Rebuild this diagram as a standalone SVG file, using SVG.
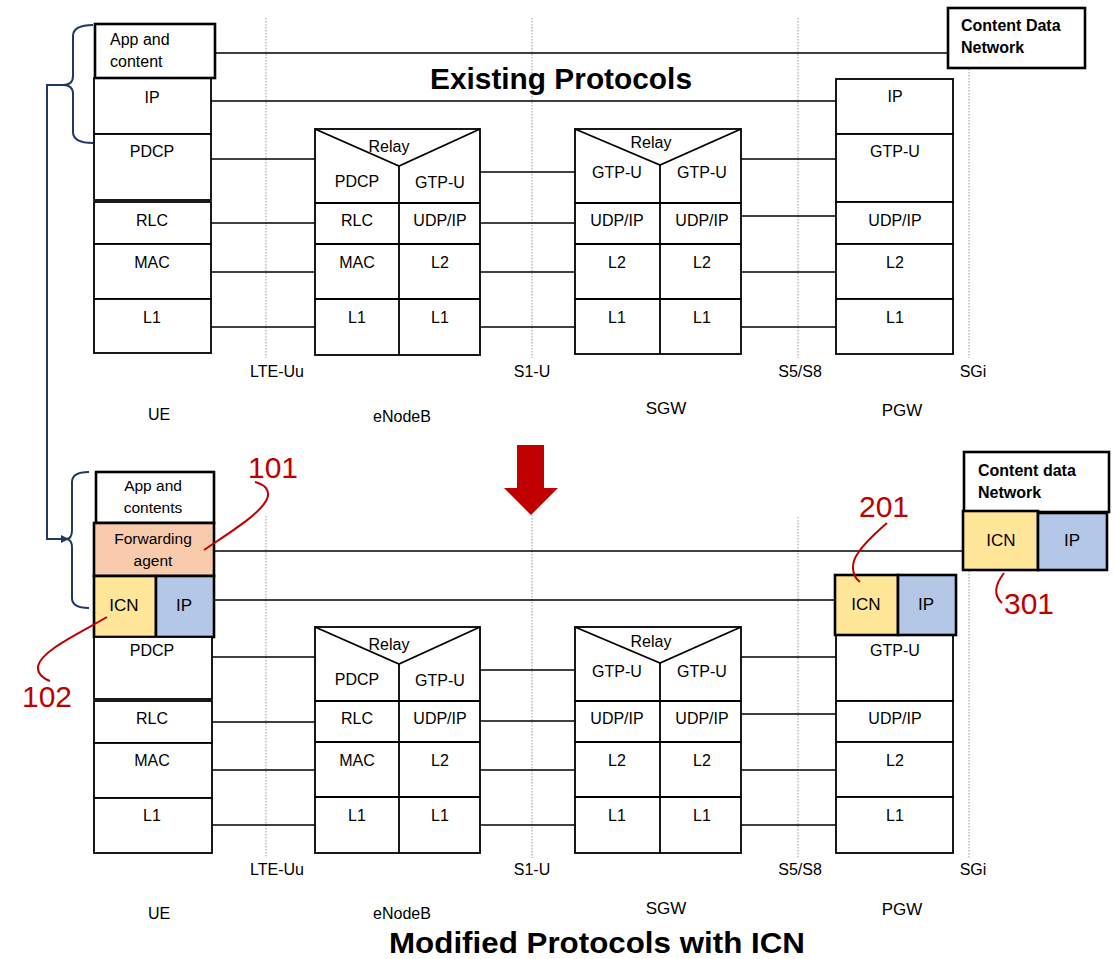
<svg xmlns="http://www.w3.org/2000/svg" width="1114" height="959" viewBox="0 0 1114 959">
<style>
.box{fill:#fff;stroke:#000;stroke-width:1.8}
.thick{stroke-width:2.6}
.ln{stroke:#000;stroke-width:1.8;fill:none}
.conn line{stroke:#000;stroke-width:1.6}
.dot{stroke:#9a9a9a;stroke-width:1;stroke-dasharray:1.5 1.5;fill:none}
.t{font-family:"Liberation Sans",Arial,sans-serif;font-size:16px;text-anchor:middle;fill:#000}
.c{font-family:"Liberation Sans",Arial,sans-serif;font-size:16px;fill:#000}
.cb{font-family:"Liberation Sans",Arial,sans-serif;font-size:16px;font-weight:bold;fill:#000}
.cm{font-family:"Liberation Sans",Arial,sans-serif;font-size:15.5px;text-anchor:middle;fill:#000}
.big{font-family:"Liberation Sans",Arial,sans-serif;font-size:17px;text-anchor:middle;fill:#000}
.lbl{font-family:"Liberation Sans",Arial,sans-serif;font-size:16px;text-anchor:middle;fill:#000}
.title{font-family:"Liberation Sans",Arial,sans-serif;font-size:29px;font-weight:bold;text-anchor:middle;fill:#000}
.red{font-family:"Liberation Sans",Arial,sans-serif;font-size:30px;fill:#c00000}
.rc{stroke:#c00000;stroke-width:2;fill:none}
.brace{stroke:#1f3864;stroke-width:2;fill:none}
.fa{fill:#f8cbad}
.icn{fill:#ffe699}
.ip{fill:#b4c7e7}
</style>
<defs>
<marker id="ah" markerWidth="8" markerHeight="8" refX="7" refY="4" orient="auto" markerUnits="userSpaceOnUse">
<path d="M0,0 L8,4 L0,8 Z" fill="#1f3864"/>
</marker>
</defs>

<!-- dotted interface lines -->
<g id="interfaces">
<line class="dot" x1="266" y1="18" x2="266" y2="358"/>
<line class="dot" x1="532" y1="18" x2="532" y2="358"/>
<line class="dot" x1="798" y1="18" x2="798" y2="358"/>
<line class="dot" x1="969" y1="69" x2="969" y2="358"/>
<line class="dot" x1="266" y1="516" x2="266" y2="858"/>
<line class="dot" x1="532" y1="515" x2="532" y2="858"/>
<line class="dot" x1="798" y1="517" x2="798" y2="858"/>
<line class="dot" x1="969" y1="571" x2="969" y2="858"/>
<text class="lbl" x="277" y="377">LTE-Uu</text>
<text class="lbl" x="532" y="377">S1-U</text>
<text class="lbl" x="800" y="377">S5/S8</text>
<text class="lbl" x="973" y="377">SGi</text>
<text class="lbl" x="277" y="875">LTE-Uu</text>
<text class="lbl" x="532" y="875">S1-U</text>
<text class="lbl" x="800" y="875">S5/S8</text>
<text class="lbl" x="973" y="875">SGi</text>
</g>

<text class="title" x="561" y="89" textLength="262" lengthAdjust="spacingAndGlyphs">Existing Protocols</text>

<!-- connectors -->
<g id="connectors" class="conn">
<line x1="215" y1="53" x2="948" y2="53"/>
<line x1="211" y1="101" x2="836" y2="101"/>
<line x1="211" y1="159" x2="315" y2="159"/>
<line x1="211" y1="223" x2="315" y2="223"/>
<line x1="211" y1="272" x2="315" y2="272"/>
<line x1="211" y1="327" x2="315" y2="327"/>
<line x1="480" y1="172" x2="575" y2="172"/>
<line x1="480" y1="223" x2="575" y2="223"/>
<line x1="480" y1="272" x2="575" y2="272"/>
<line x1="480" y1="327" x2="575" y2="327"/>
<line x1="741" y1="159" x2="836" y2="159"/>
<line x1="741" y1="216" x2="836" y2="216"/>
<line x1="741" y1="272" x2="836" y2="272"/>
<line x1="741" y1="327" x2="836" y2="327"/>

<line x1="214" y1="551" x2="963" y2="551"/>
<line x1="214" y1="600" x2="835" y2="600"/>
<line x1="212" y1="657" x2="315" y2="657"/>
<line x1="212" y1="722" x2="315" y2="722"/>
<line x1="212" y1="770" x2="315" y2="770"/>
<line x1="212" y1="825" x2="315" y2="825"/>
<line x1="480" y1="670" x2="575" y2="670"/>
<line x1="480" y1="721" x2="575" y2="721"/>
<line x1="480" y1="770" x2="575" y2="770"/>
<line x1="480" y1="825" x2="575" y2="825"/>
<line x1="741" y1="657" x2="836" y2="657"/>
<line x1="741" y1="714" x2="836" y2="714"/>
<line x1="741" y1="770" x2="836" y2="770"/>
<line x1="741" y1="825" x2="836" y2="825"/>
</g>

<!-- braces and link -->
<g id="brace-link">
<path class="brace" d="M93,25 Q73,25 73,36 L73,76 Q73,85 63,85 Q73,85 73,94 L73,132 Q73,143 93,143"/>
<path class="brace" d="M89,472 Q72,472 72,482 L72,530 Q72,539 66,539 Q72,539 72,548 L72,598 Q72,608 89,608"/>
<path class="brace" d="M63,85 L47,85 L47,539 L68,539" marker-end="url(#ah)"/>
</g>

<!-- TOP -->
<g id="ue-top">
<rect class="box" x="94" y="78" width="117" height="56"/>
<rect class="box thick" x="95" y="24" width="120" height="54"/>
<rect class="box" x="94" y="134" width="117" height="66"/>
<rect class="box" x="94" y="202" width="117" height="42"/>
<rect class="box" x="94" y="244" width="117" height="55"/>
<rect class="box" x="94" y="299" width="117" height="54"/>
<text class="c" x="110" y="45">App and</text>
<text class="c" x="110" y="67">content</text>
<text class="t" x="152" y="103">IP</text>
<text class="t" x="152" y="157">PDCP</text>
<text class="t" x="152" y="226">RLC</text>
<text class="t" x="152" y="268">MAC</text>
<text class="t" x="152" y="323">L1</text>
<text class="t" x="159" y="420">UE</text>
</g>

<g id="enb-top">
<rect class="box" x="315" y="129" width="165" height="226"/>
<polyline class="ln" points="315,129 399,166 480,129"/>
<line class="ln" x1="399" y1="166" x2="399" y2="355"/>
<line class="ln" x1="315" y1="203" x2="480" y2="203"/>
<line class="ln" x1="315" y1="244" x2="480" y2="244"/>
<line class="ln" x1="315" y1="299" x2="480" y2="299"/>
<text class="t" x="389" y="152">Relay</text>
<text class="t" x="357" y="187">PDCP</text>
<text class="t" x="440" y="188">GTP-U</text>
<text class="t" x="357" y="226">RLC</text>
<text class="t" x="440" y="226">UDP/IP</text>
<text class="t" x="357" y="268">MAC</text>
<text class="t" x="440" y="268">L2</text>
<text class="t" x="357" y="323">L1</text>
<text class="t" x="440" y="323">L1</text>
<text class="t" x="402" y="422">eNodeB</text>
</g>

<g id="sgw-top">
<rect class="box" x="575" y="129" width="166" height="225"/>
<polyline class="ln" points="575,129 660,165 741,129"/>
<line class="ln" x1="660" y1="165" x2="660" y2="354"/>
<line class="ln" x1="575" y1="203" x2="741" y2="203"/>
<line class="ln" x1="575" y1="244" x2="741" y2="244"/>
<line class="ln" x1="575" y1="299" x2="741" y2="299"/>
<text class="t" x="651" y="148">Relay</text>
<text class="t" x="617" y="178">GTP-U</text>
<text class="t" x="702" y="178">GTP-U</text>
<text class="t" x="617" y="226">UDP/IP</text>
<text class="t" x="702" y="226">UDP/IP</text>
<text class="t" x="617" y="268">L2</text>
<text class="t" x="702" y="268">L2</text>
<text class="t" x="617" y="323">L1</text>
<text class="t" x="702" y="323">L1</text>
<text class="big" x="666" y="414">SGW</text>
</g>

<g id="pgw-top">
<rect class="box" x="836" y="79" width="117" height="55"/>
<rect class="box" x="836" y="134" width="117" height="68"/>
<rect class="box" x="836" y="202" width="117" height="42"/>
<rect class="box" x="836" y="244" width="117" height="55"/>
<rect class="box" x="836" y="299" width="117" height="55"/>
<text class="t" x="895" y="102">IP</text>
<text class="t" x="895" y="157">GTP-U</text>
<text class="t" x="895" y="226">UDP/IP</text>
<text class="t" x="895" y="268">L2</text>
<text class="t" x="895" y="323">L1</text>
<text class="big" x="902" y="416">PGW</text>
</g>

<g id="cdn-top">
<rect class="box thick" x="948" y="8" width="137" height="60"/>
<text class="cb" x="961" y="31">Content Data</text>
<text class="cb" x="961" y="53">Network</text>
</g>

<!-- transition arrow -->
<g id="down-arrow">
<polygon points="517,445 544,445 544,488 558,488 531,515 504,488 517,488" fill="#c00000"/>
</g>

<!-- BOTTOM -->
<g id="ue-bottom">
<rect class="box thick" x="96" y="472" width="118" height="51"/>
<rect class="box thick fa" x="94" y="523" width="120" height="53"/>
<rect class="box thick icn" x="94" y="576" width="62" height="61"/>
<rect class="box thick ip" x="156" y="576" width="58" height="61"/>
<rect class="box" x="94" y="637" width="118" height="62"/>
<rect class="box" x="94" y="701" width="118" height="42"/>
<rect class="box" x="94" y="743" width="118" height="55"/>
<rect class="box" x="94" y="798" width="118" height="55"/>
<text class="cm" x="153" y="491">App and</text>
<text class="cm" x="153" y="513">contents</text>
<text class="cm" x="153" y="544">Forwarding</text>
<text class="cm" x="153" y="566">agent</text>
<text class="big" x="124" y="611">ICN</text>
<text class="big" x="184" y="611">IP</text>
<text class="t" x="152" y="656">PDCP</text>
<text class="t" x="152" y="724">RLC</text>
<text class="t" x="152" y="766">MAC</text>
<text class="t" x="152" y="821">L1</text>
<text class="t" x="159" y="919">UE</text>
</g>

<g id="enb-bottom">
<rect class="box" x="315" y="627" width="165" height="226"/>
<polyline class="ln" points="315,627 399,664 480,627"/>
<line class="ln" x1="399" y1="664" x2="399" y2="853"/>
<line class="ln" x1="315" y1="701" x2="480" y2="701"/>
<line class="ln" x1="315" y1="742" x2="480" y2="742"/>
<line class="ln" x1="315" y1="797" x2="480" y2="797"/>
<text class="t" x="389" y="650">Relay</text>
<text class="t" x="357" y="685">PDCP</text>
<text class="t" x="440" y="686">GTP-U</text>
<text class="t" x="357" y="724">RLC</text>
<text class="t" x="440" y="724">UDP/IP</text>
<text class="t" x="357" y="766">MAC</text>
<text class="t" x="440" y="766">L2</text>
<text class="t" x="357" y="821">L1</text>
<text class="t" x="440" y="821">L1</text>
<text class="t" x="402" y="919">eNodeB</text>
</g>

<g id="sgw-bottom">
<rect class="box" x="575" y="627" width="166" height="226"/>
<polyline class="ln" points="575,627 660,663 741,627"/>
<line class="ln" x1="660" y1="663" x2="660" y2="853"/>
<line class="ln" x1="575" y1="701" x2="741" y2="701"/>
<line class="ln" x1="575" y1="742" x2="741" y2="742"/>
<line class="ln" x1="575" y1="797" x2="741" y2="797"/>
<text class="t" x="651" y="647">Relay</text>
<text class="t" x="617" y="677">GTP-U</text>
<text class="t" x="702" y="677">GTP-U</text>
<text class="t" x="617" y="724">UDP/IP</text>
<text class="t" x="702" y="724">UDP/IP</text>
<text class="t" x="617" y="766">L2</text>
<text class="t" x="702" y="766">L2</text>
<text class="t" x="617" y="821">L1</text>
<text class="t" x="702" y="821">L1</text>
<text class="big" x="666" y="914">SGW</text>
</g>

<g id="pgw-bottom">
<rect class="box" x="836" y="635" width="117" height="66"/>
<rect class="box" x="836" y="701" width="117" height="41"/>
<rect class="box" x="836" y="742" width="117" height="55"/>
<rect class="box" x="836" y="797" width="117" height="56"/>
<rect class="box thick icn" x="835" y="575" width="63" height="60"/>
<rect class="box thick ip" x="898" y="575" width="58" height="60"/>
<text class="big" x="866" y="610">ICN</text>
<text class="big" x="926" y="610">IP</text>
<text class="t" x="895" y="656">GTP-U</text>
<text class="t" x="895" y="724">UDP/IP</text>
<text class="t" x="895" y="766">L2</text>
<text class="t" x="895" y="821">L1</text>
<text class="big" x="902" y="915">PGW</text>
</g>

<g id="cdn-bottom">
<rect class="box thick" x="964" y="452" width="145" height="60"/>
<rect class="box thick icn" x="963" y="511" width="75" height="59"/>
<rect class="box thick ip" x="1038" y="513" width="69" height="57"/>
<text class="cb" x="978" y="476">Content data</text>
<text class="cb" x="978" y="498">Network</text>
<text class="big" x="1001" y="546">ICN</text>
<text class="big" x="1072" y="546">IP</text>
</g>

<!-- red callouts -->
<g id="callouts">
<path class="rc" d="M204,550 C232,531 260,514 267,499 C271,489 263,484 255,482"/>
<text class="red" x="248" y="478">101</text>
<path class="rc" d="M107,617 C80,633 42,650 38,666 C37,674 44,679 50,681"/>
<text class="red" x="22" y="707">102</text>
<path class="rc" d="M860,582 C851,575 851,563 858,553 C866,541 878,531 887,523"/>
<text class="red" x="859" y="517">201</text>
<path class="rc" d="M1004,573 C997,582 992,594 1002,603"/>
<text class="red" x="1004" y="614">301</text>
</g>

<text class="title" x="597" y="953" textLength="416" lengthAdjust="spacingAndGlyphs">Modified Protocols with ICN</text>
</svg>
